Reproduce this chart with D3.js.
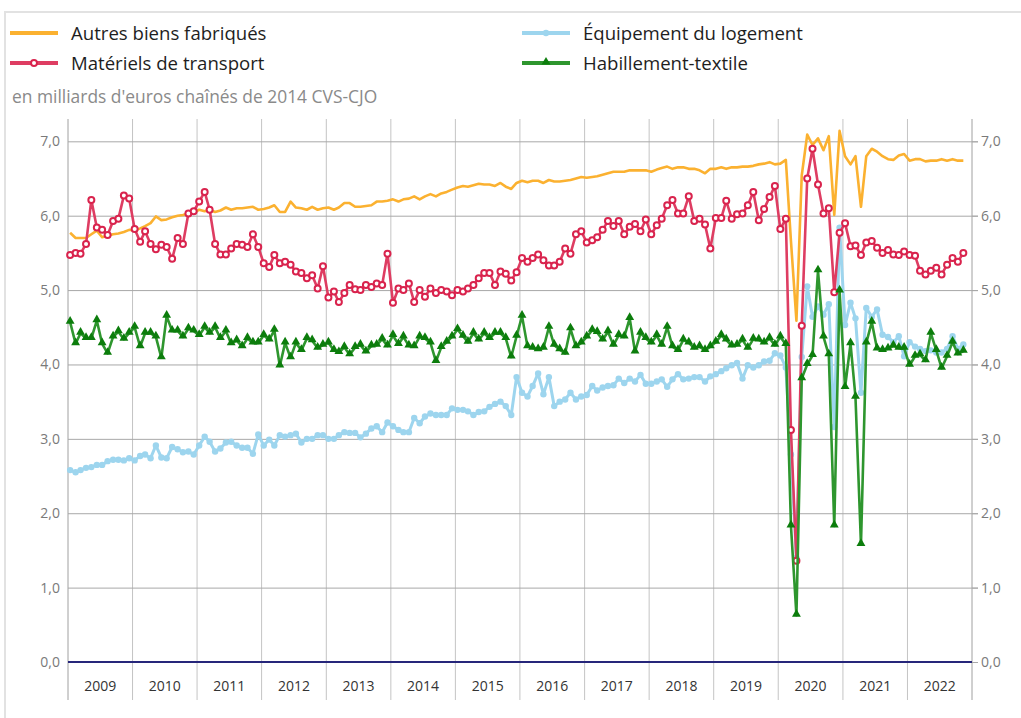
<!DOCTYPE html>
<html>
<head>
<meta charset="utf-8">
<script src="https://cdn.jsdelivr.net/npm/d3@7"></script>
<style>
  body { margin: 0; background: #fff; font-family: "Open Sans", sans-serif; }
</style>
</head>
<body>
<svg id="chart"></svg>
<script>
// monthly values, Jan 2009 .. Nov 2022 (billions of chained 2014 euros)
const years = d3.range(2009, 2023);
const yTicks = [0, 1, 2, 3, 4, 5, 6, 7];

const autres = [
  5.77, 5.70, 5.70, 5.70, 5.75, 5.80, 5.71, 5.73, 5.75, 5.76, 5.78, 5.81,
  5.80, 5.83, 5.86, 5.90, 5.99, 5.94, 5.95, 5.98, 6.00, 6.01, 6.03, 6.04,
  6.08, 6.06, 6.08, 6.05, 6.07, 6.11, 6.08, 6.10, 6.10, 6.11, 6.12, 6.08,
  6.09, 6.11, 6.14, 6.05, 6.05, 6.19, 6.11, 6.10, 6.08, 6.12, 6.08, 6.10,
  6.11, 6.08, 6.11, 6.17, 6.17, 6.12, 6.12, 6.13, 6.14, 6.19, 6.19, 6.20,
  6.22, 6.19, 6.22, 6.23, 6.26, 6.22, 6.26, 6.29, 6.26, 6.30, 6.32, 6.35,
  6.38, 6.40, 6.39, 6.41, 6.43, 6.42, 6.42, 6.40, 6.44, 6.39, 6.36, 6.44,
  6.47, 6.45, 6.47, 6.47, 6.44, 6.48, 6.46, 6.46, 6.47, 6.48, 6.50, 6.52,
  6.51, 6.52, 6.53, 6.55, 6.57, 6.59, 6.59, 6.59, 6.61, 6.61, 6.61, 6.61,
  6.59, 6.62, 6.64, 6.66, 6.63, 6.65, 6.65, 6.63, 6.63, 6.61, 6.57, 6.63,
  6.63, 6.65, 6.63, 6.65, 6.65, 6.66, 6.66, 6.67, 6.69, 6.70, 6.72, 6.69,
  6.70, 6.75, 5.66, 4.59, 6.54, 7.09, 6.95, 7.04, 6.88, 7.07, 6.01, 7.14,
  6.80, 6.69, 6.80, 6.12, 6.80, 6.90, 6.86, 6.80, 6.76, 6.75, 6.81, 6.83,
  6.74, 6.76, 6.76, 6.73, 6.74, 6.74, 6.76, 6.74, 6.76, 6.74, 6.74
];

const equipement = [
  2.58, 2.55, 2.58, 2.61, 2.62, 2.65, 2.65, 2.70, 2.72, 2.72, 2.71, 2.74,
  2.71, 2.77, 2.79, 2.74, 2.91, 2.75, 2.74, 2.89, 2.86, 2.82, 2.83, 2.79,
  2.91, 3.03, 2.96, 2.83, 2.87, 2.95, 2.96, 2.91, 2.88, 2.88, 2.80, 3.06,
  2.91, 2.99, 2.91, 3.05, 3.03, 3.05, 3.07, 2.95, 3.00, 3.00, 3.05, 3.05,
  3.00, 3.00, 3.05, 3.09, 3.08, 3.08, 3.02, 3.07, 3.14, 3.17, 3.09, 3.22,
  3.17, 3.12, 3.09, 3.09, 3.28, 3.21, 3.30, 3.34, 3.32, 3.32, 3.32, 3.41,
  3.39, 3.39, 3.37, 3.32, 3.36, 3.37, 3.43, 3.47, 3.50, 3.44, 3.32, 3.83,
  3.62, 3.57, 3.71, 3.88, 3.60, 3.83, 3.44, 3.50, 3.53, 3.62, 3.53, 3.57,
  3.59, 3.71, 3.65, 3.69, 3.71, 3.72, 3.81, 3.75, 3.81, 3.77, 3.86, 3.74,
  3.74, 3.77, 3.80, 3.70, 3.80, 3.87, 3.80, 3.81, 3.83, 3.83, 3.77, 3.84,
  3.87, 3.91, 3.95, 3.99, 4.02, 3.81, 3.99, 3.96, 3.99, 4.04, 4.05, 4.15,
  4.12, 3.96, 2.79, 1.40, 4.10, 5.05, 4.64, 4.78, 4.67, 4.81, 3.16, 5.84,
  4.53, 4.83, 4.62, 3.62, 4.76, 4.64, 4.74, 4.40, 4.37, 4.30, 4.38, 4.11,
  4.30, 4.24, 4.21, 4.18, 4.19, 4.16, 4.16, 4.21, 4.38, 4.21, 4.27
];

const transport = [
  5.47, 5.50, 5.49, 5.62, 6.21, 5.84, 5.81, 5.74, 5.93, 5.96, 6.27, 6.23,
  5.82, 5.65, 5.79, 5.62, 5.55, 5.61, 5.58, 5.42, 5.70, 5.62, 6.03, 6.06,
  6.19, 6.32, 6.08, 5.62, 5.48, 5.48, 5.56, 5.62, 5.61, 5.58, 5.75, 5.58,
  5.36, 5.31, 5.47, 5.36, 5.38, 5.34, 5.25, 5.23, 5.16, 5.20, 5.02, 5.32,
  4.90, 4.98, 4.84, 4.96, 5.07, 5.01, 5.00, 5.07, 5.04, 5.09, 5.07, 5.49,
  4.83, 5.02, 5.00, 5.09, 4.84, 5.00, 4.91, 5.02, 4.96, 5.00, 4.98, 4.93,
  5.00, 4.98, 5.02, 5.07, 5.16, 5.23, 5.23, 5.07, 5.25, 5.22, 5.13, 5.24,
  5.43, 5.38, 5.43, 5.48, 5.40, 5.33, 5.33, 5.38, 5.56, 5.49, 5.75, 5.79,
  5.64, 5.67, 5.71, 5.81, 5.93, 5.86, 5.93, 5.75, 5.85, 5.89, 5.79, 5.95,
  5.75, 5.87, 5.96, 6.14, 6.21, 6.03, 6.03, 6.26, 5.93, 5.96, 5.88, 5.56,
  5.97, 5.97, 6.20, 5.96, 6.02, 6.03, 6.14, 6.32, 5.94, 6.09, 6.25, 6.40,
  5.82, 5.96, 3.12, 1.36, 4.52, 6.50, 6.90, 6.42, 6.03, 6.10, 4.97, 5.77,
  5.90, 5.59, 5.60, 5.47, 5.64, 5.66, 5.57, 5.50, 5.54, 5.48, 5.47, 5.52,
  5.47, 5.46, 5.26, 5.21, 5.26, 5.30, 5.21, 5.34, 5.43, 5.38, 5.50
];

const habillement = [
  4.57, 4.28, 4.42, 4.35, 4.35, 4.59, 4.28, 4.15, 4.37, 4.44, 4.34, 4.42,
  4.50, 4.24, 4.42, 4.42, 4.37, 4.09, 4.65, 4.45, 4.45, 4.37, 4.48, 4.45,
  4.39, 4.50, 4.42, 4.50, 4.35, 4.45, 4.28, 4.32, 4.24, 4.35, 4.29, 4.29,
  4.39, 4.33, 4.46, 3.98, 4.29, 4.09, 4.29, 4.19, 4.35, 4.32, 4.22, 4.26,
  4.29, 4.19, 4.16, 4.23, 4.13, 4.23, 4.26, 4.17, 4.25, 4.26, 4.34, 4.25,
  4.39, 4.27, 4.37, 4.25, 4.24, 4.37, 4.35, 4.29, 4.04, 4.23, 4.30, 4.37,
  4.47, 4.38, 4.30, 4.42, 4.33, 4.42, 4.35, 4.42, 4.42, 4.35, 4.10, 4.38,
  4.65, 4.24, 4.22, 4.20, 4.22, 4.50, 4.26, 4.20, 4.15, 4.48, 4.24, 4.29,
  4.37, 4.46, 4.43, 4.33, 4.44, 4.26, 4.39, 4.37, 4.62, 4.17, 4.42, 4.35,
  4.29, 4.39, 4.26, 4.50, 4.24, 4.19, 4.33, 4.29, 4.22, 4.24, 4.19, 4.24,
  4.30, 4.39, 4.33, 4.25, 4.26, 4.33, 4.22, 4.34, 4.33, 4.29, 4.35, 4.26,
  4.37, 4.27, 1.83, 0.63, 3.81, 4.00, 4.12, 5.26, 4.37, 4.13, 1.83, 4.99,
  3.69, 4.28, 3.56, 1.58, 4.29, 4.57, 4.21, 4.19, 4.21, 4.25, 4.22, 4.22,
  3.99, 4.11, 4.13, 4.05, 4.42, 4.19, 3.95, 4.11, 4.30, 4.14, 4.18
];

const months = autres.map((_, i) => new Date(2009, i, 13));

const w = 1021;
const h = 718;
const margin = { top: 119, right: 49, bottom: 56, left: 68 };

const svg = d3.select('#chart').attr('width', w).attr('height', h);

// outer frame
svg.append('path')
  .attr('d', `M5,${h} V12 H${w}`)
  .attr('fill', 'none')
  .attr('stroke', '#e2e2e2')
  .attr('stroke-width', 2);

const x = d3.scaleTime()
  .domain([new Date(2009, 0, 1), new Date(2023, 0, 1)])
  .range([margin.left, w - margin.right]);

const y = d3.scaleLinear()
  .domain([0, 7.3])
  .range([h - margin.bottom, margin.top]);

const fr = d3.formatLocale({ decimal: ',', thousands: ' ', grouping: [3], currency: ['', ' €'] });
const fmt = fr.format('.1f');

// vertical year separators
svg.append('g')
  .selectAll('line')
  .data(d3.range(2009, 2024))
  .join('line')
  .attr('x1', (d) => x(new Date(d, 0, 1)))
  .attr('x2', (d) => x(new Date(d, 0, 1)))
  .attr('y1', margin.top)
  .attr('y2', 700)
  .attr('stroke', (d) => (d === 2009 || d === 2023 ? '#a0a0a0' : '#c4c4c4'))
  .attr('stroke-width', 1);

// horizontal grid + left labels
const gl = svg.append('g')
  .attr('transform', `translate(${margin.left},0)`)
  .call(d3.axisLeft(y).tickValues(yTicks).tickFormat(fmt)
    .tickSize(-(w - margin.left - margin.right) - 6).tickPadding(8));
gl.select('.domain').remove();
gl.selectAll('.tick line').attr('x1', 0).attr('stroke', '#a8a8a8');
gl.selectAll('.tick text')
  .attr('fill', '#7a7a7a')
  .style('font-size', '14px')
  .style('font-family', '"Open Sans", sans-serif');

// right labels
const gr = svg.append('g')
  .attr('transform', `translate(${w - margin.right},0)`)
  .call(d3.axisRight(y).tickValues(yTicks).tickFormat(fmt).tickSize(6).tickPadding(3));
gr.select('.domain').remove();
gr.selectAll('.tick line').attr('stroke', '#a8a8a8');
gr.selectAll('.tick text')
  .attr('fill', '#7a7a7a')
  .style('font-size', '14px')
  .style('font-family', '"Open Sans", sans-serif');

// year labels
svg.append('g')
  .selectAll('text')
  .data(years)
  .join('text')
  .attr('x', (d) => (x(new Date(d, 0, 1)) + x(new Date(d + 1, 0, 1))) / 2)
  .attr('y', 691)
  .attr('text-anchor', 'middle')
  .attr('fill', '#333')
  .style('font-size', '14px')
  .text((d) => d);

// zero baseline
svg.append('line')
  .attr('x1', x.range()[0])
  .attr('x2', x.range()[1])
  .attr('y1', y(0))
  .attr('y2', y(0))
  .attr('stroke', '#26267a')
  .attr('stroke-width', 2);

const line = d3.line()
  .x((d, i) => x(months[i]))
  .y((d) => y(d));

const series = [
  { name: 'Autres biens fabriqués', values: autres, color: '#fbb130', width: 2.6, marker: null },
  { name: 'Équipement du logement', values: equipement, color: '#9dd5ee', width: 3, marker: 'dot' },
  { name: 'Matériels de transport', values: transport, color: '#de3d62', width: 2.6, marker: 'ring' },
  { name: 'Habillement-textile', values: habillement, color: '#2e962e', width: 2.6, marker: 'tri' }
];

const tri = d3.symbol().type(d3.symbolTriangle).size(34);

function drawMarker(g, s, cx, cy) {
  if (s.marker === 'dot') {
    g.append('circle').attr('cx', cx).attr('cy', cy).attr('r', 3.2).attr('fill', '#9dd5ee');
  } else if (s.marker === 'ring') {
    g.append('circle').attr('cx', cx).attr('cy', cy).attr('r', 3)
      .attr('fill', '#fff').attr('stroke', '#d9234d').attr('stroke-width', 2);
  } else if (s.marker === 'tri') {
    g.append('path').attr('d', tri()).attr('transform', `translate(${cx},${cy - 1})`)
      .attr('fill', '#0c7d0c');
  }
}

series.forEach((s) => {
  const g = svg.append('g');
  g.append('path')
    .datum(s.values)
    .attr('d', line)
    .attr('fill', 'none')
    .attr('stroke', s.color)
    .attr('stroke-width', s.width)
    .attr('stroke-linejoin', 'round');
  if (s.marker) {
    s.values.forEach((v, i) => drawMarker(g, s, x(months[i]), y(v)));
  }
});

// legend
const legend = [
  { s: series[0], lx: 10, ly: 33 },
  { s: series[2], lx: 10, ly: 63 },
  { s: series[1], lx: 522, ly: 33 },
  { s: series[3], lx: 522, ly: 63 }
];
legend.forEach(({ s, lx, ly }) => {
  const g = svg.append('g');
  g.append('line')
    .attr('x1', lx).attr('x2', lx + 48).attr('y1', ly).attr('y2', ly)
    .attr('stroke', s.color).attr('stroke-width', 4);
  if (s.marker) drawMarker(g, s, lx + 24, ly);
  g.append('text')
    .attr('x', lx + 61)
    .attr('y', ly + 6.5)
    .attr('fill', '#1e1e1e')
    .style('font-size', '18.6px')
    .text(s.name);
});

svg.append('text')
  .attr('x', 12)
  .attr('y', 103)
  .attr('fill', '#8a8a8a')
  .style('font-size', '17.4px')
  .text("en milliards d'euros chaînés de 2014 CVS-CJO");
</script>
</body>
</html>
